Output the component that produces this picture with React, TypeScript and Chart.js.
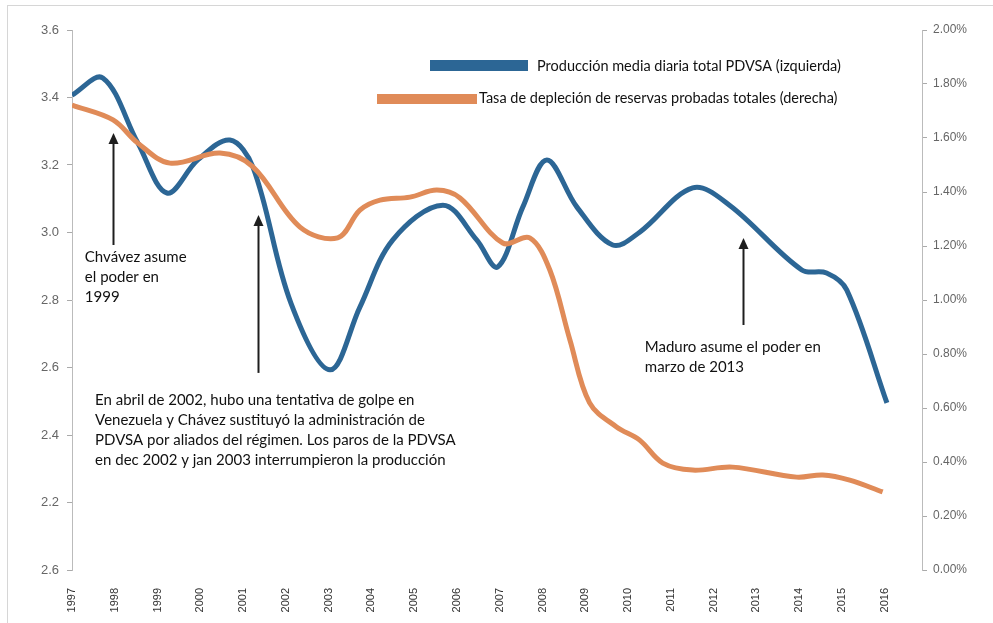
import React, { useEffect, useRef } from "react";
import { Chart, registerables } from "chart.js";

Chart.register(...registerables);

// Producción media diaria total PDVSA (millones b/d, eje izquierdo)
const prodYears = [1997.0, 1997.72, 1998.54, 1999.22, 1999.94, 2000.69, 2001.23, 2002.12, 2003.03, 2003.73, 2004.5, 2005.67, 2006.46, 2006.95, 2007.54, 2008.1, 2008.8, 2009.64, 2010.27, 2011.51, 2012.37, 2014.06, 2014.64, 2015.11, 2016.05];
const prodValues = [3.407, 3.458, 3.265, 3.117, 3.215, 3.274, 3.194, 2.79, 2.593, 2.779, 2.978, 3.081, 2.978, 2.898, 3.076, 3.215, 3.076, 2.963, 3.001, 3.132, 3.081, 2.889, 2.88, 2.83, 2.495];

// Tasa de depleción de reservas probadas totales (% , eje derecho)
const deplYears = [1997.0, 1997.96, 1998.54, 1999.29, 2000.46, 2001.23, 2002.33, 2003.21, 2003.73, 2004.2, 2004.9, 2005.53, 2006.07, 2007.07, 2007.7, 2008.17, 2008.64, 2009.1, 2009.73, 2010.27, 2010.81, 2011.51, 2012.44, 2013.94, 2014.55, 2015.18, 2015.95];
const deplValues = [1.722, 1.667, 1.581, 1.507, 1.544, 1.493, 1.27, 1.23, 1.333, 1.37, 1.381, 1.407, 1.378, 1.211, 1.23, 1.111, 0.852, 0.619, 0.53, 0.481, 0.396, 0.37, 0.381, 0.344, 0.352, 0.333, 0.289];

const xTickYears = [1997, 1998, 1999, 2000, 2001, 2002, 2003, 2004, 2005, 2006, 2007, 2008, 2009, 2010, 2011, 2012, 2013, 2014, 2015, 2016];
const leftTickValues = [2.0, 2.2, 2.4, 2.6, 2.8, 3.0, 3.2, 3.4, 3.6];
const leftTickLabels = ["2.6", "2.2", "2.4", "2.6", "2.8", "3.0", "3.2", "3.4", "3.6"];
const rightTickValues = [0, 0.2, 0.4, 0.6, 0.8, 1.0, 1.2, 1.4, 1.6, 1.8, 2.0];
const rightTickLabels = ["0.00%", "0.20%", "0.40%", "0.60%", "0.80%", "1.00%", "1.20%", "1.40%", "1.60%", "1.80%", "2.00%"];

const seriesNames = [
  "Producción media diaria total PDVSA (izquierda)",
  "Tasa de depleción de reservas probadas totales (derecha)",
];
const BLUE = "#2C6695";
const ORANGE = "#E08B58";

const annotations = [
  { arrowX: 1997.96, arrowTop: 3.295, arrowBottom: 2.963, textX: 1997.3, textY: 2.927, lines: ["Chvávez asume", "el poder en", "1999"] },
  {
    arrowX: 2001.35, arrowTop: 3.052, arrowBottom: 2.584, textX: 1997.54, textY: 2.504,
    lines: [
      "En abril de 2002, hubo una tentativa de golpe en",
      "Venezuela y Chávez sustituyó la administración de",
      "PDVSA por aliados del régimen. Los paros de la PDVSA",
      "en dec 2002 y jan 2003 interrumpieron la producción",
    ],
  },
  { arrowX: 2012.68, arrowTop: 2.984, arrowBottom: 2.726, textX: 2010.39, textY: 2.661, lines: ["Maduro asume el poder en", "marzo de 2013"] },
];

const TEXT_FONT = "Lato, 'Open Sans', sans-serif";

const overlayPlugin = {
  id: "overlay",
  afterDatasetsDraw(chart: any) {
    const ctx: CanvasRenderingContext2D = chart.ctx;
    const xs = chart.scales.x;
    const yl = chart.scales.y;
    ctx.save();
    annotations.forEach((a) => {
      const x = Math.round(xs.getPixelForValue(a.arrowX)) + 0.5;
      const yTop = yl.getPixelForValue(a.arrowTop);
      const yBot = yl.getPixelForValue(a.arrowBottom);
      ctx.strokeStyle = "#1e1e1e";
      ctx.lineWidth = 2;
      ctx.beginPath();
      ctx.moveTo(x, yBot);
      ctx.lineTo(x, yTop + 8);
      ctx.stroke();
      ctx.fillStyle = "#1e1e1e";
      ctx.beginPath();
      ctx.moveTo(x, yTop);
      ctx.lineTo(x - 5, yTop + 11);
      ctx.lineTo(x + 5, yTop + 11);
      ctx.closePath();
      ctx.fill();
      ctx.font = "15px " + TEXT_FONT;
      ctx.textBaseline = "middle";
      ctx.textAlign = "left";
      ctx.fillStyle = "#111";
      const tx = xs.getPixelForValue(a.textX);
      const ty = yl.getPixelForValue(a.textY);
      a.lines.forEach((l, i) => ctx.fillText(l, tx, ty + i * 20));
    });
    ctx.font = "14.5px " + TEXT_FONT;
    ctx.textBaseline = "middle";
    ctx.fillStyle = BLUE;
    ctx.fillRect(430, 60, 98, 11);
    ctx.fillStyle = "#111";
    ctx.fillText(seriesNames[0], 537, 66);
    ctx.fillStyle = ORANGE;
    ctx.fillRect(377, 94, 100, 10);
    ctx.fillStyle = "#111";
    ctx.fillText(seriesNames[1], 479, 98);
    ctx.strokeStyle = "#d6d6d6";
    ctx.lineWidth = 1;
    ctx.strokeRect(7.5, 5.5, 1000, 700);
    ctx.restore();
  },
};

export default function App() {
  const ref = useRef<HTMLCanvasElement | null>(null);
  useEffect(() => {
    if (!ref.current) return;
    const chart = new Chart(ref.current, {
      type: "line",
      data: {
        datasets: [
          {
            label: seriesNames[1],
            data: deplYears.map((x, i) => ({ x, y: deplValues[i] })),
            yAxisID: "y1",
            borderColor: ORANGE,
            borderWidth: 5,
            pointRadius: 0,
            tension: 0.35,
            fill: false,
          },
          {
            label: seriesNames[0],
            data: prodYears.map((x, i) => ({ x, y: prodValues[i] })),
            yAxisID: "y",
            borderColor: BLUE,
            borderWidth: 5,
            pointRadius: 0,
            tension: 0.35,
            fill: false,
          },
        ],
      },
      options: {
        animation: false,
        responsive: true,
        maintainAspectRatio: false,
        layout: { padding: { top: 30, left: 0, right: 0, bottom: 0 } },
        plugins: { legend: { display: false }, tooltip: { enabled: false } },
        scales: {
          x: {
            type: "linear",
            min: 1997,
            max: 2016.87,
            afterBuildTicks: (s: any) => {
              s.ticks = xTickYears.map((v) => ({ value: v }));
            },
            afterFit: (s: any) => {
              s.height = 53;
            },
            grid: { display: false },
            border: { display: false },
            ticks: {
              autoSkip: false,
              minRotation: 90,
              maxRotation: 90,
              padding: 10,
              color: "#333",
              font: { family: "Liberation Sans, Arial, sans-serif", size: 11 },
              callback: (v: any) => String(v),
            },
          },
          y: {
            type: "linear",
            position: "left",
            min: 2.0,
            max: 3.6,
            afterBuildTicks: (s: any) => {
              s.ticks = leftTickValues.map((v) => ({ value: v }));
            },
            afterFit: (s: any) => {
              s.width = 72;
            },
            grid: { drawOnChartArea: false, drawTicks: true, tickLength: 5, color: "#aaa" },
            border: { display: true, color: "#bbb", dash: [1, 1], width: 1 },
            ticks: {
              padding: 8,
              color: "#666",
              font: { family: "Liberation Sans, Arial, sans-serif", size: 13 },
              callback: (v: any) => {
                const i = leftTickValues.findIndex((t) => Math.abs(t - v) < 1e-6);
                return i >= 0 ? leftTickLabels[i] : "";
              },
            },
          },
          y1: {
            type: "linear",
            position: "right",
            min: 0,
            max: 2.0,
            afterBuildTicks: (s: any) => {
              s.ticks = rightTickValues.map((v) => ({ value: v }));
            },
            afterFit: (s: any) => {
              s.width = 71;
            },
            grid: { drawOnChartArea: false, drawTicks: true, tickLength: 5, color: "#aaa" },
            border: { display: true, color: "#bbb", dash: [1, 1], width: 1 },
            ticks: {
              padding: 6,
              color: "#666",
              font: { family: "Liberation Sans, Arial, sans-serif", size: 12 },
              callback: (v: any) => {
                const i = rightTickValues.findIndex((t) => Math.abs(t - v) < 1e-6);
                return i >= 0 ? rightTickLabels[i] : "";
              },
            },
          },
        },
      },
      plugins: [overlayPlugin],
    } as any);
    return () => chart.destroy();
  }, []);
  return (
    <div style={{ position: "fixed", left: 0, top: 0, width: 993, height: 623, background: "#fff" }}>
      <canvas ref={ref} />
    </div>
  );
}
